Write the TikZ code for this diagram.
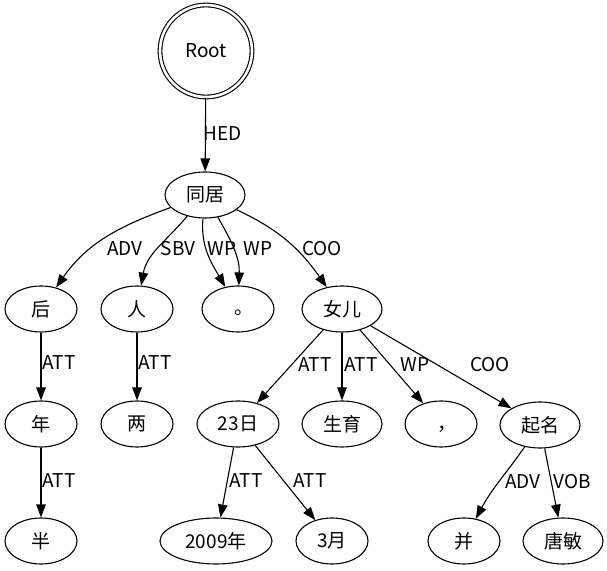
\documentclass[tikz,border=0pt]{standalone}
\usepackage{fontspec}
\setmainfont{Noto Sans CJK SC}
\usetikzlibrary{shapes.geometric,arrows.meta}

\tikzset{
  word/.style={draw, ellipse, line width=1.1pt, minimum width=72pt, minimum height=46pt, inner sep=0pt},
  wide/.style={word, minimum width=80pt},
  rootnode/.style={draw, circle, line width=1.1pt, double, double distance=2.6pt, minimum size=92pt, inner sep=0pt},
  dep/.style={line width=1.1pt, -{Triangle[length=13pt,width=9.5pt]}},
  rel/.style={inner sep=0pt}
}
\newcommand{\lowmark}[1]{\smash{\raisebox{-6pt}{\hspace*{12pt}#1}}}

\begin{document}
\begin{tikzpicture}[x=1pt, y=1pt, font=\fontsize{19}{21}\selectfont]
            \useasboundingbox (0,0) rectangle (607,570);

            % nodes
            \node[rootnode] (root) at (206,519) {Root};
            \node[wide] (tongju) at (205,375) {同居};

            \node[word] (hou) at (41,261) {后};
            \node[word] (ren) at (137,261) {人};
            \node[word] (ju) at (238,261) {\lowmark{。}};
            \node[wide] (nver) at (342,261) {女儿};

            \node[word] (nian) at (41,146) {年};
            \node[word] (liang) at (137,146) {两};
            \node[wide, minimum width=82pt] (ri23) at (238,146) {23日};
            \node[wide] (shengyu) at (342,146) {生育};
            \node[word] (dou) at (441,146) {\lowmark{，}};
            \node[wide] (qiming) at (540,145) {起名};

            \node[word] (ban) at (41,29) {半};
            \node[word, minimum width=112pt] (nian2009) at (216,29) {2009年};
            \node[word] (yue3) at (332,29) {3月};
            \node[word] (bing) at (464,29) {并};
            \node[wide] (tangmin) at (563,29) {唐敏};

            % edges
            \draw[dep] (root) -- (tongju);
            \draw[dep] (tongju) to[out=200, in=55] (hou);
            \draw[dep] (tongju) to[out=230, in=80] (ren);
            \draw[dep] (tongju) to[out=265, in=120] (ju);
            \draw[dep] (tongju) to[out=300, in=88] (ju);
            \draw[dep] (tongju) to[out=335, in=125] (nver);

            \draw[dep] (hou) -- (nian);
            \draw[dep] (ren) -- (liang);
            \draw[dep] (nver) -- (ri23);
            \draw[dep] (nver) -- (shengyu);
            \draw[dep] (nver) -- (dou);
            \draw[dep] (nver) -- (qiming);

            \draw[dep] (nian) -- (ban);
            \draw[dep] (ri23) -- (nian2009);
            \draw[dep] (ri23) -- (yue3);
            \draw[dep] (qiming) to[out=235, in=62] (bing);
            \draw[dep] (qiming) -- (tangmin);

            % edge labels
            \node[rel] (lhed) at (223,436) {HED};
            \node[rel] (ladv1) at (125,321) {ADV};
            \node[rel] (lsbv) at (178,321) {SBV};
            \node[rel] (lwp1) at (222,321) {WP};
            \node[rel] (lwp2) at (258,321) {WP};
            \node[rel] (lcoo1) at (322,321) {COO};

            \node[rel] (latt1) at (59,207) {ATT};
            \node[rel] (latt2) at (155,207) {ATT};
            \node[rel] (latt3) at (315,205) {ATT};
            \node[rel] (latt4) at (361,205) {ATT};
            \node[rel] (lwp3) at (415,205) {WP};
            \node[rel] (lcoo2) at (490,205) {COO};

            \node[rel] (latt5) at (59,89) {ATT};
            \node[rel] (latt6) at (246,89) {ATT};
            \node[rel] (latt7) at (310,89) {ATT};
            \node[rel] (ladv2) at (523,88) {ADV};
            \node[rel] (lvob) at (572,88) {VOB};
        \end{tikzpicture}
\end{document}
